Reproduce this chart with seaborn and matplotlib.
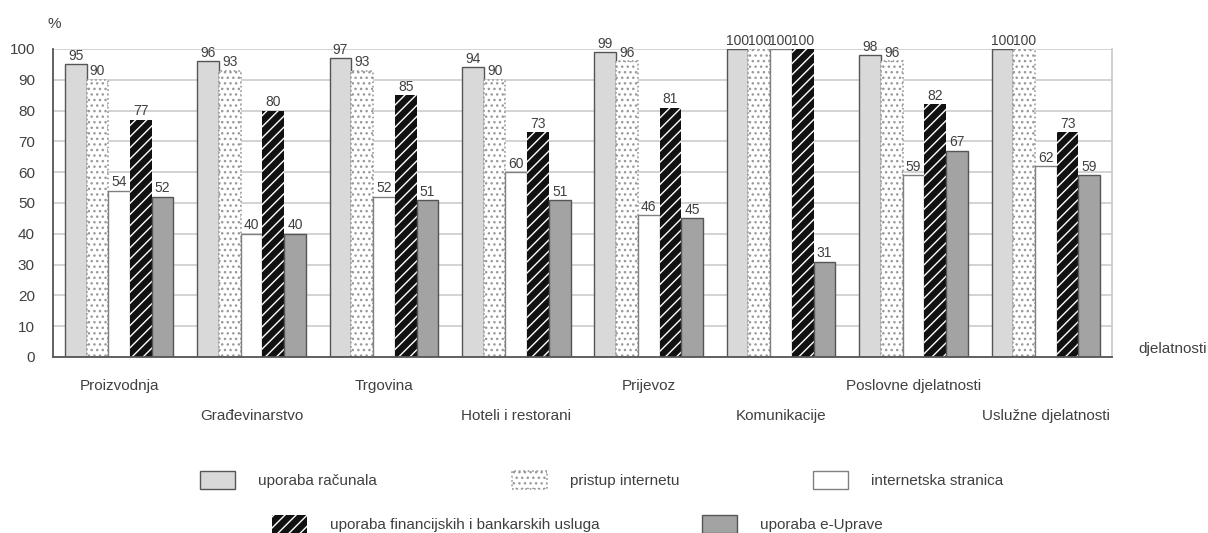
import numpy as np
import pandas as pd
import seaborn as sns
import matplotlib
matplotlib.use('Agg')
import matplotlib.pyplot as plt

djelatnosti = ['Proizvodnja', 'Građevinarstvo', 'Trgovina', 'Hoteli i restorani',
               'Prijevoz', 'Komunikacije', 'Poslovne djelatnosti', 'Uslužne djelatnosti']
pokazatelji = ['uporaba računala', 'pristup internetu', 'internetska stranica',
               'uporaba financijskih i bankarskih usluga', 'uporaba e-Uprave']

racunala = [95, 96, 97, 94, 99, 100, 98, 100]
internet = [90, 93, 93, 90, 96, 100, 96, 100]
stranica = [54, 40, 52, 60, 46, 100, 59, 62]
financije = [77, 80, 85, 73, 81, 100, 82, 73]
e_uprava = [52, 40, 51, 51, 45, 31, 67, 59]

y_ticks = list(range(0, 101, 10))

sns.set_style('white')
plt.rcParams['font.family'] = ['Liberation Sans', 'DejaVu Sans']
plt.rcParams['text.color'] = '#404040'
plt.rcParams['axes.labelcolor'] = '#404040'
plt.rcParams['xtick.color'] = '#404040'
plt.rcParams['ytick.color'] = '#404040'
plt.rcParams['hatch.linewidth'] = 1.0

df = pd.DataFrame({
    'djelatnost': djelatnosti * 5,
    'pokazatelj': np.repeat(pokazatelji, len(djelatnosti)),
    'postotak': racunala + internet + stranica + financije + e_uprava,
})

boje = dict(zip(pokazatelji, ['#d9d9d9', 'white', 'white', '#111111', '#a3a3a3']))

fig = plt.figure(figsize=(12.08, 5.33), dpi=100)
ax = fig.add_axes([53 / 1208, 1 - 357 / 533, (1112 - 53) / 1208, (357 - 49) / 533])

sns.barplot(data=df, x='djelatnost', y='postotak', hue='pokazatelj',
            order=djelatnosti, hue_order=pokazatelji, palette=boje,
            saturation=1, width=0.82, gap=0, edgecolor='#555555',
            linewidth=1.0, legend=False, ax=ax)

# styling per series: hatches, edges
for i, cont in enumerate(ax.containers):
    for p in cont.patches:
        if i == 1:
            p.set_hatch('...')
            p.set_edgecolor('#999999')
            p.set_linestyle(':')
            p.set_linewidth(1.2)
        elif i == 2:
            p.set_edgecolor('#808080')
        elif i == 3:
            # black bar with thin white stripes
            p.set_hatch('///')
            p.set_edgecolor('white')
            p.set_linewidth(0)
    ax.bar_label(cont, fmt='%g', padding=1, fontsize=10, color='#404040')

ax.set_axisbelow(True)
ax.set_xlim(-0.5, 7.5)
ax.set_ylim(0, 100)
ax.set_yticks(y_ticks)
ax.yaxis.grid(True, color='#cccccc', linewidth=1.2)
ax.xaxis.grid(False)
ax.set_xlabel('')
ax.set_ylabel('')
ax.tick_params(axis='both', length=0, labelsize=11)
ax.tick_params(axis='y', pad=13)
ax.tick_params(axis='x', pad=16)

for i, lbl in enumerate(ax.get_xticklabels()):
    if i % 2:
        lbl.set_y(-0.0974)

for s in ['left', 'bottom']:
    ax.spines[s].set_color('#555555')
    ax.spines[s].set_linewidth(1.3)
ax.spines['top'].set_visible(False)
ax.spines['right'].set_color('#c8c8c8')
ax.spines['right'].set_linewidth(1.2)

fig.text(48 / 1208, 1 - 24 / 533, '%', fontsize=11, va='center', ha='left')
fig.text(1138 / 1208, 1 - 349 / 533, 'djelatnosti', fontsize=11, va='center', ha='left')

# legend, one entry at a time to match the loose layout
poz = [(200, 480), (512, 480), (813, 480), (272, 524), (702, 524)]
for cont, naziv, (x, y) in zip(ax.containers, pokazatelji, poz):
    fig.legend([cont.patches[0]], [naziv], loc='center left',
               bbox_to_anchor=(x / 1208, 1 - y / 533), frameon=False,
               fontsize=11, handlelength=2.3, handleheight=1.45,
               handletextpad=1.5, borderpad=0, borderaxespad=0)

fig.savefig('out.png', dpi=100)
